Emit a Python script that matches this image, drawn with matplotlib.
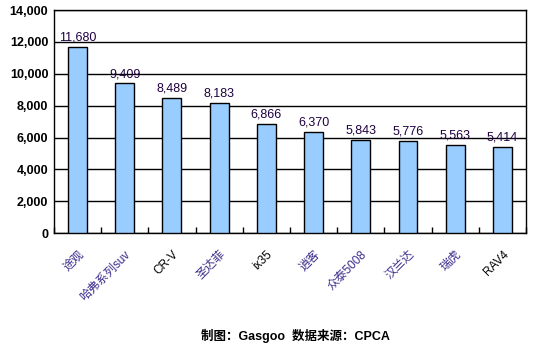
import matplotlib.pyplot as plt
import numpy as np

models = ["途观", "哈弗系列suv", "CR-V", "圣达菲", "ix35", "逍客", "众泰5008", "汉兰达", "瑞虎", "RAV4"]
sales = [11680, 9409, 8489, 8183, 6866, 6370, 5843, 5776, 5563, 5414]
yticks = [0, 2000, 4000, 6000, 8000, 10000, 12000, 14000]

plt.rcParams['font.family'] = ['Liberation Sans', 'Noto Sans CJK SC', 'DejaVu Sans']

fig = plt.figure(figsize=(5.33, 3.48), dpi=100)
ax = fig.add_axes([0.101, 0.330, 0.886, 0.641])

x = np.arange(len(models))
ax.bar(x, sales, width=0.4, color='#99CCFF', edgecolor='black', linewidth=1, zorder=3)

for xi, v in zip(x, sales):
    ax.text(xi, v + 200, f"{v:,}", ha='center', va='bottom', fontsize=9, color='#200040')

ax.set_xlim(-0.5, len(models) - 0.5)
ax.set_ylim(0, 14000)
ax.set_yticks(yticks)
ax.set_yticklabels([f"{t:,}" for t in yticks], fontsize=9, fontweight='bold')
ax.yaxis.grid(True, color='black', linewidth=1, zorder=0)
ax.tick_params(axis='y', length=0, pad=4)

ax.set_xticks(x)
ax.set_xticklabels(models, rotation=45, ha='right', rotation_mode='anchor', fontsize=8.5)
for lbl, name in zip(ax.get_xticklabels(), models):
    if any(ord(c) > 127 for c in name):
        lbl.set_color('#3a2a8a')
ax.tick_params(axis='x', length=0, pad=11)
ax.set_xticks(np.arange(len(models) + 1) - 0.5, minor=True)
ax.tick_params(axis='x', which='minor', direction='in', length=4, width=1)

for s in ax.spines.values():
    s.set_linewidth(1)
    s.set_color('black')

fig.text(0.555, 0.035, "制图：Gasgoo  数据来源：CPCA", ha='center', va='center',
         fontsize=9, fontweight='bold')

fig.savefig('out.png', dpi=100)
